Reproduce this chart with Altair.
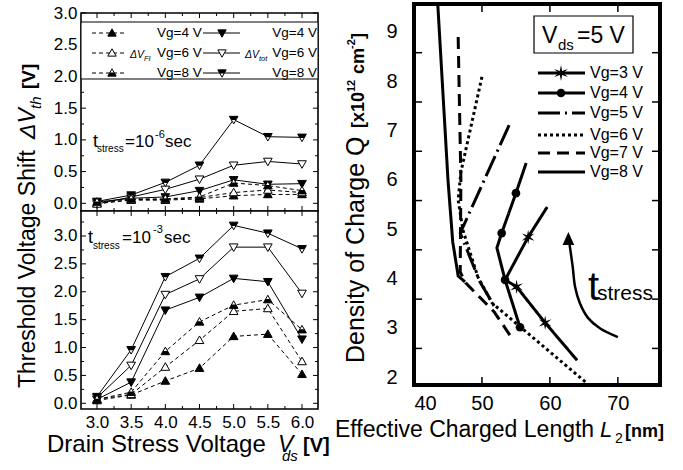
import math
import altair as alt
import pandas as pd

FONT = "Liberation Sans"

# ---------------- left: threshold voltage shift vs drain stress voltage ----------------
vds = [3.0, 3.5, 4.0, 4.5, 5.0, 5.5, 6.0]

# t_stress = 1e-6 s
tot_short_vg4 = [0.02, 0.08, 0.10, 0.20, 0.37, 0.30, 0.31]
tot_short_vg6 = [-0.01, 0.10, 0.22, 0.38, 0.60, 0.66, 0.62]
tot_short_vg8 = [0.03, 0.13, 0.33, 0.60, 1.32, 1.05, 1.04]
fi_short_vg4 = [0.00, 0.05, 0.05, 0.07, 0.12, 0.14, 0.14]
fi_short_vg6 = [-0.01, 0.06, 0.06, 0.09, 0.17, 0.21, 0.17]
fi_short_vg8 = [0.02, 0.07, 0.07, 0.10, 0.32, 0.28, 0.20]

# t_stress = 1e-3 s
tot_long_vg4 = [0.07, 0.38, 1.67, 1.90, 2.24, 2.18, 1.15]
tot_long_vg6 = [0.10, 0.68, 1.95, 2.23, 2.80, 2.80, 1.97]
tot_long_vg8 = [0.12, 0.96, 2.27, 2.60, 3.19, 3.05, 2.77]
fi_long_vg4 = [0.05, 0.15, 0.40, 0.63, 1.20, 1.24, 0.52]
fi_long_vg6 = [0.07, 0.16, 0.65, 1.13, 1.65, 1.70, 0.75]
fi_long_vg8 = [0.07, 0.20, 0.93, 1.46, 1.76, 1.86, 1.32]

vds_ticks = [3.0, 3.5, 4.0, 4.5, 5.0, 5.5, 6.0]
vds_minor = [3.25, 3.75, 4.25, 4.75, 5.25, 5.75]
shift_ticks = [0.0, 0.5, 1.0, 1.5, 2.0, 2.5, 3.0]
shift_minor_short = [0.25, 0.75, 1.25, 1.75, 2.25, 2.75]
shift_minor_long = [0.25, 0.75, 1.25, 1.75, 2.25, 2.75, 3.25]

# ---------------- right: charge density vs effective charged length (Vds = 5 V) ----------------
vg_right = ["Vg=3 V", "Vg=4 V", "Vg=5 V", "Vg=6 V", "Vg=7 V", "Vg=8 V"]
l2_vg3 = [64.0, 59.3, 55.1, 53.4, 56.8, 59.6]
q_vg3 = [2.34, 3.10, 3.83, 3.97, 4.84, 5.45]
l2_vg4 = [55.6, 53.4, 52.2, 52.9, 55.0, 56.5]
q_vg4 = [3.01, 3.97, 4.62, 4.92, 5.73, 6.34]
l2_vg5 = [54.0, 46.8, 49.7, 51.8]
q_vg5 = [7.11, 4.92, 3.93, 3.44]
l2_vg6 = [50.0, 46.9, 46.5, 47.2, 49.4, 51.5, 65.4]
q_vg6 = [8.09, 6.16, 5.59, 4.98, 4.03, 3.50, 1.88]
l2_vg7 = [46.5, 46.9, 46.8, 47.6, 51.8, 54.6]
q_vg7 = [8.90, 6.00, 4.13, 3.91, 3.32, 2.75]
l2_vg8 = [43.5, 45.0, 45.7, 46.5, 47.5]
q_vg8 = [9.56, 6.00, 4.74, 4.05, 3.93]

# symbols placed on the Vg=3 V and Vg=4 V curves
star_l2 = [59.3, 55.1, 56.8]
star_q = [3.10, 3.83, 4.84]
dot_l2 = [55.6, 53.4, 52.9, 55.0]
dot_q = [3.01, 3.97, 4.92, 5.73]

l2_ticks = [40, 50, 60, 70]
l2_inner_ticks = [50, 60, 70]
q_ticks = [2, 3, 4, 5, 6, 7, 8, 9]
q_inner_ticks = [2.58, 3.58, 4.58, 5.58, 6.58, 7.58, 8.58]

# t_stress arrow path (in L2 / Q units)
arrow_l2 = [70.0, 67.35, 65.6, 64.4, 63.7, 63.35, 62.9]
arrow_q = [2.81, 2.99, 3.20, 3.50, 3.83, 4.24, 4.68]

one = pd.DataFrame({"k": [0]})

TRI_DOWN = "M-1,-0.75L1,-0.75L0,1Z"
TRI_UP = "M-1,0.75L1,0.75L0,-1Z"
HALF_DOWN = "M-1,-0.75L1,-0.75L0.5,0.125L-0.5,0.125Z"
HALF_UP = "M-1,0.75L1,0.75L0.5,-0.125L-0.5,-0.125Z"
HEAD_UP = "M0,-1L0.9,1L-0.9,1Z"


def star_path(n=6, inner=0.3):
    pts = []
    for k in range(2 * n):
        a = math.radians(-90 + 180.0 / n * k)
        r = 1.0 if k % 2 == 0 else inner
        pts.append(f"{r * math.cos(a):.3f},{r * math.sin(a):.3f}")
    return "M" + "L".join(pts) + "Z"


STAR = star_path()


def text(s, x, y, size, style=None, weight=None, angle=None, align="left", baseline="alphabetic"):
    kw = dict(text=s, font=FONT, fontSize=size, align=align, baseline=baseline, color="black")
    if style:
        kw["fontStyle"] = style
    if weight:
        kw["fontWeight"] = weight
    if angle:
        kw["angle"] = angle
    return alt.Chart(one).mark_text(**kw).encode(x=alt.value(x), y=alt.value(y))


def frame_ticks(xs, ys, xa, ya, w, h, xmaj, xmin, ymaj, ymin, lmaj, lmin, sw):
    layers = []
    for vals, ln in ((xmaj, lmaj), (xmin, lmin)):
        if not vals or not ln:
            continue
        c = alt.Chart(pd.DataFrame({"v": vals})).mark_rule(color="black", strokeWidth=sw)
        xe = alt.X("v:Q", scale=xs, axis=xa)
        layers.append(c.encode(x=xe, y=alt.value(h), y2=alt.value(h - ln)))
        layers.append(c.encode(x=xe, y=alt.value(0), y2=alt.value(ln)))
    for vals, ln in ((ymaj, lmaj), (ymin, lmin)):
        if not vals or not ln:
            continue
        c = alt.Chart(pd.DataFrame({"v": vals})).mark_rule(color="black", strokeWidth=sw)
        ye = alt.Y("v:Q", scale=ys, axis=ya)
        layers.append(c.encode(y=ye, x=alt.value(0), x2=alt.value(ln)))
        layers.append(c.encode(y=ye, x=alt.value(w), x2=alt.value(w - ln)))
    return layers


def shift_table(t4, t6, t8, f4, f6, f8):
    rows = []
    for kind, vg, vals in (("tot", 4, t4), ("tot", 6, t6), ("tot", 8, t8),
                           ("fi", 4, f4), ("fi", 6, f6), ("fi", 8, f8)):
        for v, s in zip(vds, vals):
            rows.append({"kind": kind, "vg": vg, "vds": v, "shift": s})
    return pd.DataFrame(rows)


LW, LH = 237, 198


def shift_panel(df, y_domain, y_minor, show_x, extra):
    xs = alt.Scale(domain=[2.766, 6.234], nice=False, zero=False)
    ys = alt.Scale(domain=y_domain, nice=False, zero=False)
    ya = alt.Axis(values=shift_ticks, format=".1f", tickSize=0, domain=False, labelPadding=4,
                  labelFontSize=17, labelFont=FONT, labelColor="black", title=None, grid=False)
    if show_x:
        xa = alt.Axis(values=vds_ticks, format=".1f", tickSize=0, domain=False, labelPadding=5,
                      labelFontSize=17, labelFont=FONT, labelColor="black", title=None, grid=False)
    else:
        xa = None
    X = alt.X("vds:Q", scale=xs, axis=xa)
    Y = alt.Y("shift:Q", scale=ys, axis=ya)
    base = alt.Chart(df)
    layers = [
        base.transform_filter("datum.kind == 'tot'").mark_line(color="black", strokeWidth=1).encode(
            x=X, y=Y, detail="vg:N"),
        base.transform_filter("datum.kind == 'fi'").mark_line(color="black", strokeWidth=1,
                                                               strokeDash=[4, 3]).encode(
            x=X, y=Y, detail="vg:N"),
    ]
    for kind, tri, half in (("tot", TRI_DOWN, HALF_DOWN), ("fi", TRI_UP, HALF_UP)):
        for vg, fill in ((4, "black"), (6, "white"), (8, "white")):
            layers.append(
                base.transform_filter(f"datum.kind == '{kind}' && datum.vg == {vg}").mark_point(
                    shape=tri, filled=True, fill=fill, stroke="black", strokeWidth=1, size=75, opacity=1
                ).encode(x=X, y=Y))
        layers.append(
            base.transform_filter(f"datum.kind == '{kind}' && datum.vg == 8").mark_point(
                shape=half, filled=True, fill="black", size=75, opacity=1
            ).encode(x=X, y=Y))
    layers += frame_ticks(xs, ys, xa, ya, LW, LH, vds_ticks, vds_minor, shift_ticks, y_minor, 5, 3, 1)
    layers += extra
    return alt.layer(*layers).properties(
        width=LW, height=LH, view=alt.ViewBackground(stroke="black", strokeWidth=1.6, fill="white"))


def legend_sample(x0, x1, xm, y, dash, shape, fill, half):
    out = []
    rule = alt.Chart(one).mark_rule(color="black", strokeWidth=1, **({"strokeDash": dash} if dash else {}))
    out.append(rule.encode(x=alt.value(x0), x2=alt.value(x1), y=alt.value(y)))
    out.append(alt.Chart(one).mark_point(shape=shape, filled=True, fill=fill, stroke="black",
                                         strokeWidth=1, size=70, opacity=1).encode(
        x=alt.value(xm), y=alt.value(y)))
    if half:
        out.append(alt.Chart(one).mark_point(shape=half, filled=True, fill="black", size=70,
                                             opacity=1).encode(x=alt.value(xm), y=alt.value(y)))
    return out


# legend box and notes of the upper panel
top_extra = [
    alt.Chart(one).mark_rect(fill="white", stroke="black", strokeWidth=1).encode(
        x=alt.value(0), x2=alt.value(LW), y=alt.value(9), y2=alt.value(66)),
]
for i, (fill, half) in enumerate((("black", None), ("white", None), ("white", HALF_UP))):
    top_extra += legend_sample(11, 44, 31, 20 + 20 * i, [4, 3], TRI_UP, fill, half)
for i, (fill, half) in enumerate((("black", None), ("white", None), ("white", HALF_DOWN))):
    top_extra += legend_sample(122, 159, 141, 20 + 20 * i, None, TRI_DOWN, fill, half)
for i, lab in enumerate(["Vg=4 V", "Vg=6 V", "Vg=8 V"]):
    top_extra.append(text(lab, 76, 20 + 20 * i, 13.5, baseline="middle"))
    top_extra.append(text(lab, 236, 20 + 20 * i, 13.5, baseline="middle", align="right"))
top_extra += [
    text("\u0394V", 49, 45, 10.5, style="italic"),
    text("FI", 63, 48, 7.5, style="italic"),
    text("\u0394V", 164, 45, 10.5, style="italic"),
    text("tot", 178, 48, 7.5, style="italic"),
    text("t", 12, 134, 18),
    text("stress", 16, 139, 10),
    text("=10", 44, 134, 17),
    text("-6", 74, 125, 11),
    text("sec", 84, 134, 17),
    # y-axis title shared by both panels
    text("Threshold Voltage Shift ", -46, 375, 23, angle=270),
    text("\u0394V", -46, 126, 23, style="italic", angle=270),
    text("th", -40, 96, 15, style="italic", angle=270),
    text("[V]", -46, 76, 19, weight="bold", angle=270),
]

bottom_extra = [
    text("t", 7, 32, 18),
    text("stress", 12, 38, 10),
    text("=10", 41, 32, 17),
    text("-3", 72, 22, 11),
    text("sec", 83, 32, 17),
    text("Drain Stress Voltage", -34, 241, 24),
    text("V", 197, 241, 23, style="italic"),
    text("ds", 201, 250, 15, style="italic"),
    text("[V]", 222, 241, 20, weight="bold"),
]

top_panel = shift_panel(
    shift_table(tot_short_vg4, tot_short_vg6, tot_short_vg8, fi_short_vg4, fi_short_vg6, fi_short_vg8),
    [-0.121, 3.0], shift_minor_short, False, top_extra)
bottom_panel = shift_panel(
    shift_table(tot_long_vg4, tot_long_vg6, tot_long_vg8, fi_long_vg4, fi_long_vg6, fi_long_vg8),
    [-0.102, 3.448], shift_minor_long, True, bottom_extra)

# ---------------- right panel ----------------
RW, RH = 246, 381
rx = alt.Scale(domain=[40.0, 76.2], nice=False, zero=False)
ry = alt.Scale(domain=[1.838, 9.568], nice=False, zero=False)
rxa = alt.Axis(values=l2_ticks, tickSize=0, domain=False, labelPadding=8, labelFontSize=20,
               labelFont=FONT, labelColor="black", title=None, grid=False)
rya = alt.Axis(values=q_ticks, tickSize=0, domain=False, labelPadding=17, labelFontSize=20,
               labelFont=FONT, labelColor="black", title=None, grid=False)
RX = lambda f: alt.X(f, scale=rx, axis=rxa)
RY = lambda f: alt.Y(f, scale=ry, axis=rya)

curve_rows = []
for name, l2s, qs in zip(vg_right, [l2_vg3, l2_vg4, l2_vg5, l2_vg6, l2_vg7, l2_vg8],
                         [q_vg3, q_vg4, q_vg5, q_vg6, q_vg7, q_vg8]):
    for i, (a, b) in enumerate(zip(l2s, qs)):
        curve_rows.append({"vg": name, "i": i, "l2": a, "q": b})
curves = pd.DataFrame(curve_rows)

dashes = [[1, 0], [1, 0], [22, 5, 2, 5], [3, 3], [12, 7], [1, 0]]

r_layers = [
    alt.Chart(curves).mark_line(color="black", strokeWidth=3, strokeCap="butt").encode(
        x=RX("l2:Q"), y=RY("q:Q"), detail="vg:N", order="i:Q",
        strokeDash=alt.StrokeDash("vg:N", scale=alt.Scale(domain=vg_right, range=dashes), legend=None),
    ),
    alt.Chart(pd.DataFrame({"l2": star_l2, "q": star_q})).mark_point(
        shape=STAR, filled=True, fill="black", size=210, opacity=1).encode(x=RX("l2:Q"), y=RY("q:Q")),
    alt.Chart(pd.DataFrame({"l2": dot_l2, "q": dot_q})).mark_circle(
        color="black", size=75, opacity=1).encode(x=RX("l2:Q"), y=RY("q:Q")),
    alt.Chart(pd.DataFrame({"l2": arrow_l2, "q": arrow_q, "i": list(range(len(arrow_l2)))})).mark_line(
        color="black", strokeWidth=2.5, interpolate="catmull-rom").encode(
        x=RX("l2:Q"), y=RY("q:Q"), order="i:Q"),
    alt.Chart(pd.DataFrame({"l2": [62.72], "q": [4.81]})).mark_point(
        shape=HEAD_UP, filled=True, fill="black", size=169, opacity=1).encode(x=RX("l2:Q"), y=RY("q:Q")),
]
r_layers += frame_ticks(rx, ry, rxa, rya, RW, RH, l2_inner_ticks, [], q_inner_ticks, [], 8, 0, 1.5)

# legend
r_layers.append(alt.Chart(one).mark_rect(fill="white", stroke="black", strokeWidth=1.2).encode(
    x=alt.value(120), x2=alt.value(219), y=alt.value(12), y2=alt.value(49)))
r_layers += [text("V", 128, 39, 23), text("ds", 144, 46, 15), text("=5 V", 163, 39, 23)]
for i, (name, dash, yy) in enumerate(zip(vg_right, dashes, [69, 89, 109, 131, 149, 168])):
    kw = {} if dash == [1, 0] else {"strokeDash": dash}
    r_layers.append(alt.Chart(one).mark_rule(color="black", strokeWidth=3, strokeCap="butt", **kw).encode(
        x=alt.value(124), x2=alt.value(171), y=alt.value(yy)))
    r_layers.append(text(name, 176, yy, 16, baseline="middle"))
r_layers.append(alt.Chart(one).mark_point(shape=STAR, filled=True, fill="black", size=250, opacity=1).encode(
    x=alt.value(147), y=alt.value(69)))
r_layers.append(alt.Chart(one).mark_circle(color="black", size=75, opacity=1).encode(
    x=alt.value(147), y=alt.value(89)))
r_layers += [
    text("t", 174, 296, 40),
    text("stress", 183, 296, 21),
    text("Effective Charged Length ", -79, 433, 23),
    text("L", 186, 433, 22, style="italic"),
    text("2", 201, 439, 14),
    text("[nm]", 211, 433, 18, weight="bold"),
    text("Density of Charge Q", -50, 359, 25, angle=270),
    text("[x10", -50, 124, 18, weight="bold", angle=270),
    text("12", -59, 88, 11, weight="bold", angle=270),
    text("cm", -50, 70, 18, weight="bold", angle=270),
    text("-2", -59, 45, 11, weight="bold", angle=270),
    text("]", -50, 35, 18, weight="bold", angle=270),
]

right_panel = alt.layer(*r_layers).properties(
    width=RW, height=RH, view=alt.ViewBackground(stroke="black", strokeWidth=4, fill="white"))

# small blank strip that lowers the left column relative to the right panel
spacer = alt.Chart(one).mark_point(opacity=0).encode(x=alt.value(0), y=alt.value(0)).properties(
    width=LW, height=9, view=alt.ViewBackground(stroke="transparent"))

left_column = alt.vconcat(spacer, top_panel, bottom_panel, spacing=0, bounds="flush")

chart = alt.hconcat(left_column, right_panel, spacing=2).properties(
    autosize=alt.AutoSizeParams(type="none"),
    padding={"left": 81, "top": 4, "right": 602, "bottom": 466},
    background="white",
).configure(font=FONT).configure_axis(grid=False)

chart.save("out.html", embed_options={"renderer": "svg", "actions": False})
